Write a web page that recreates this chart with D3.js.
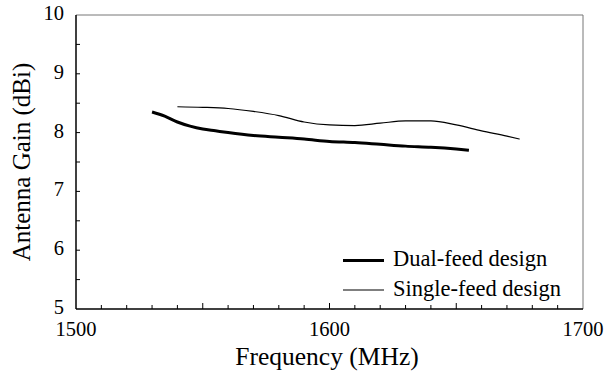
<!DOCTYPE html>
<html><head><meta charset="utf-8">
<script src="https://cdn.jsdelivr.net/npm/d3@7"></script>
<style>body{margin:0;background:#fff}svg{display:block}text{font-family:"Liberation Serif","Times New Roman",serif;fill:#000}</style>
</head><body>
<svg id="c" width="606" height="376"></svg>
<script>
const dualFreq = [1530,1535,1540,1545,1550,1555,1560,1570,1580,1590,1600,1610,1620,1630,1640,1650,1655];
const dualGain = [8.35,8.28,8.18,8.11,8.06,8.03,8.00,7.95,7.92,7.89,7.85,7.83,7.80,7.77,7.75,7.72,7.70];
const singleFreq = [1540,1550,1560,1570,1580,1590,1600,1610,1620,1630,1640,1650,1660,1670,1675];
const singleGain = [8.44,8.43,8.41,8.36,8.29,8.18,8.13,8.12,8.16,8.20,8.20,8.13,8.03,7.94,7.89];
const xTicks = [1500,1600,1700];
const yTicks = [5,6,7,8,9,10];
const seriesNames = ["Dual-feed design","Single-feed design"];
const xTitle = "Frequency (MHz)";
const yTitle = "Antenna Gain (dBi)";

const svg = d3.select("#c");
const L=76, R=583, T=15, B=309;
const x = d3.scaleLinear().domain([1500,1700]).range([L,R]);
const y = d3.scaleLinear().domain([5,10]).range([B,T]);

svg.append("line").attr("x1",L).attr("x2",R).attr("y1",T).attr("y2",T).attr("stroke","#777").attr("stroke-width",1);
svg.append("line").attr("x1",R).attr("x2",R).attr("y1",T).attr("y2",B).attr("stroke","#777").attr("stroke-width",1);

const xMinor = d3.range(1510,1700,10);
svg.selectAll(".xm").data(xMinor).join("line")
  .attr("x1",d=>x(d)).attr("x2",d=>x(d)).attr("y1",B).attr("y2",d=>d%50===0?B-6:B-4)
  .attr("stroke","#000").attr("stroke-width",1);
const yMinor = d3.range(5.5,10,0.5);
svg.selectAll(".ym").data(yMinor).join("line")
  .attr("x1",L).attr("x2",L+4).attr("y1",d=>y(d)).attr("y2",d=>y(d))
  .attr("stroke","#000").attr("stroke-width",1);

svg.append("line").attr("x1",L).attr("x2",L).attr("y1",T).attr("y2",B).attr("stroke","#000").attr("stroke-width",1.5);
svg.append("line").attr("x1",L).attr("x2",R).attr("y1",B).attr("y2",B).attr("stroke","#000").attr("stroke-width",1.5);

svg.selectAll(".yl").data(yTicks).join("text")
  .attr("x",L-12).attr("y",d=>y(d)+5).attr("text-anchor","end").attr("font-size",20.5).text(d=>d);
svg.selectAll(".xl").data(xTicks).join("text")
  .attr("x",d=>x(d)).attr("y",336).attr("text-anchor","middle").attr("font-size",20.5).text(d=>d);

svg.append("text").attr("x",327).attr("y",365).attr("text-anchor","middle").attr("font-size",25.5).text(xTitle);
svg.append("text").attr("transform",`translate(30,162) rotate(-90)`).attr("text-anchor","middle").attr("font-size",25).text(yTitle);

const line = d3.line().x(d=>x(d[0])).y(d=>y(d[1])).curve(d3.curveMonotoneX);
svg.append("path").datum(dualFreq.map((f,i)=>[f,dualGain[i]]))
  .attr("d",line).attr("fill","none").attr("stroke","#000").attr("stroke-width",3);
svg.append("path").datum(singleFreq.map((f,i)=>[f,singleGain[i]]))
  .attr("d",line).attr("fill","none").attr("stroke","#000").attr("stroke-width",1.2);

const lg = [{w:3,yy:260.5,ty:266},{w:1.2,yy:290,ty:296}];
lg.forEach((d,i)=>{
  svg.append("line").attr("x1",343).attr("x2",384).attr("y1",d.yy).attr("y2",d.yy).attr("stroke","#000").attr("stroke-width",d.w);
  svg.append("text").attr("x",393).attr("y",d.ty).attr("font-size",22.5).text(seriesNames[i]);
});
</script>
</body></html>
